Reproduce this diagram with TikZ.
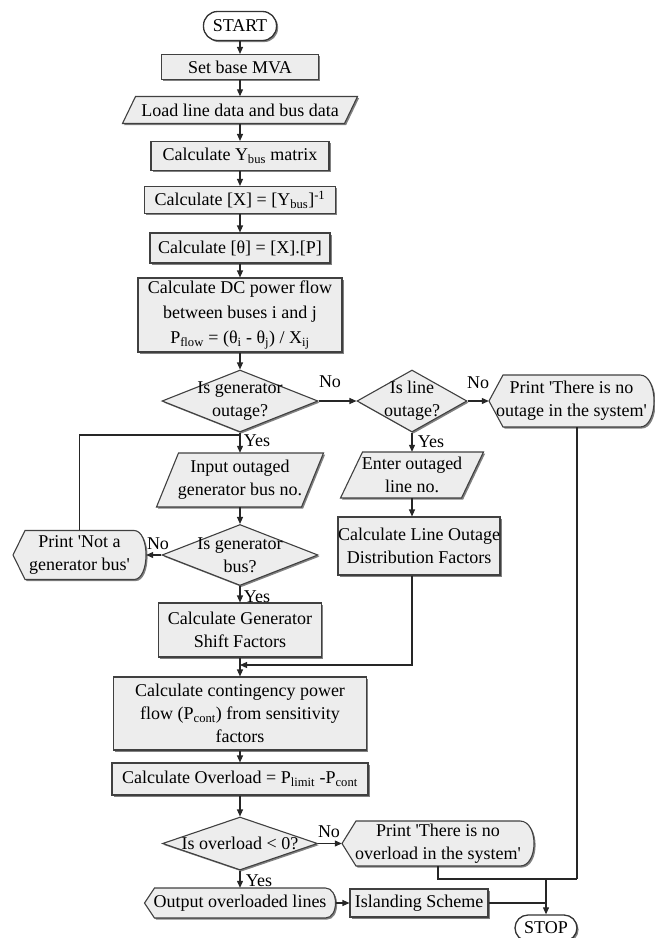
\documentclass[tikz,border=0pt]{standalone}
\usepackage{fontspec}
\setmainfont{Liberation Serif}
\usetikzlibrary{arrows.meta,shadows,calc,shapes.geometric}

% Parallelogram (input/output) outline: centre x, centre y, width, height, skew
\newcommand\ioshape[5]{%
  \path[boxfill] ({#1-#3/2},{#2+#4/2}) -- ({#1+#3/2-#5},{#2+#4/2})
    -- ({#1+#3/2},{#2-#4/2}) -- ({#1-#3/2+#5},{#2-#4/2}) -- cycle;}
% Display outline (pointed left side, rounded right side): centre x, centre y, width, height, depth
\newcommand\dispshape[5]{%
  \path[boxfill] ({#1-#3/2},#2) -- ({#1-#3/2+#5},{#2-#4/2})
    -- ({#1+#3/2-#5},{#2-#4/2})
    .. controls ({#1+#3/2+#5/3},{#2-#4/2}) and ({#1+#3/2+#5/3},{#2+#4/2}) .. ({#1+#3/2-#5},{#2+#4/2})
    -- ({#1-#3/2+#5},{#2+#4/2}) -- cycle;}

\begin{document}
\begin{tikzpicture}[x=1pt,y=-1pt,
  font=\fontsize{18}{23}\selectfont,
  every node/.style={align=center,inner sep=0pt},
  flowline/.style={draw=black!85,line width=1.1pt},
  arrowline/.style={flowline,-{Triangle[length=7pt,width=6pt]}},
  shade/.style={drop shadow={shadow xshift=1.6pt,shadow yshift=-1.6pt,fill=black!55,opacity=0.9}},
  boxfill/.style={draw=black!75,line width=1.1pt,fill=gray!14,shade},
  procbox/.style={boxfill,rectangle},
  termbox/.style={rectangle,draw=black!80,line width=1.3pt,fill=white,shade},
  decision/.style={boxfill,diamond},
  plain/.style={rectangle,draw=none},
  lbl/.style={inner sep=0pt}]

\useasboundingbox (0,0) rectangle (654,938);

% main column
\node[termbox,rounded corners=14pt,minimum width=73pt,minimum height=29pt] (start) at (240,26) {START};
\node[procbox,minimum width=157pt,minimum height=25pt] (base) at (240,67) {Set base MVA};
\ioshape{240}{110}{235}{27}{13}
\node[plain,minimum width=235pt,minimum height=27pt] (load) at (240,110) {Load line data and bus data};
\node[procbox,minimum width=178pt,minimum height=29pt] (ybus) at (240,156) {Calculate Y\textsubscript{bus} matrix};
\node[procbox,minimum width=191pt,minimum height=27pt] (xinv) at (240,200) {Calculate [X] = [Y\textsubscript{bus}]\textsuperscript{-1}};
\node[procbox,minimum width=180pt,minimum height=30pt] (theta) at (240,248) {Calculate [θ] = [X].[P]};
\node[procbox,minimum width=204pt,minimum height=74pt] (dc) at (240,315)
  {Calculate DC power flow\\[2pt]between buses i and j\\[2pt]P\textsubscript{flow} = (θ\textsubscript{i} - θ\textsubscript{j}) / X\textsubscript{ij}};

% outage decisions
\node[decision,minimum width=156pt,minimum height=62pt] (d1) at (240,401) {};
\node[lbl] (d1t) at (240,401) {Is generator\\outage?};
\node[decision,minimum width=110pt,minimum height=62pt] (d2) at (412,401) {};
\node[lbl] (d2t) at (412,401) {Is line\\outage?};
\dispshape{571.5}{401}{165}{52}{14}
\node[plain,minimum width=165pt,minimum height=52pt] (po) at (571.5,401) {Print \textquotesingle There is no\\outage in the system\textquotesingle};

% generator branch
\ioshape{240}{480}{167}{54}{22}
\node[plain,minimum width=167pt,minimum height=54pt] (inp) at (240,480) {Input outaged\\generator bus no.};
\node[decision,minimum width=156pt,minimum height=61pt] (d3) at (240,555) {};
\node[lbl] (d3t) at (240,555) {Is generator\\bus?};
\dispshape{79.5}{555}{133}{49}{12}
\node[plain,minimum width=133pt,minimum height=49pt] (pn) at (79.5,555) {Print \textquotesingle Not a\\generator bus\textquotesingle};
\node[procbox,minimum width=163pt,minimum height=54pt] (gsf) at (240,630) {Calculate Generator\\Shift Factors};

% line branch
\ioshape{412}{475}{143}{46}{22}
\node[plain,minimum width=143pt,minimum height=46pt] (enl) at (412,475) {Enter outaged\\line no.};
\node[procbox,minimum width=162pt,minimum height=58pt] (lodf) at (419,546) {Calculate Line Outage\\Distribution Factors};

% contingency analysis
\node[procbox,minimum width=253pt,minimum height=73pt] (cont) at (240,713.5)
  {Calculate contingency power\\flow (P\textsubscript{cont}) from sensitivity\\factors};
\node[procbox,minimum width=256pt,minimum height=32pt] (ovl) at (240,779) {Calculate Overload = P\textsubscript{limit} -P\textsubscript{cont}};
\node[decision,minimum width=155pt,minimum height=53pt] (d4) at (240,843.5) {};
\node[lbl] (d4t) at (240,843.5) {Is overload < 0?};
\dispshape{438}{843.5}{192}{45}{14}
\node[plain,minimum width=192pt,minimum height=45pt] (pov) at (438,843.5) {Print \textquotesingle There is no\\overload in the system\textquotesingle};
\dispshape{240}{903}{191}{30}{10}
\node[plain,minimum width=191pt,minimum height=30pt] (out) at (240,903) {Output overloaded lines};
\node[procbox,minimum width=138pt,minimum height=28pt] (isl) at (419,903) {Islanding Scheme};
\node[termbox,rounded corners=13pt,minimum width=62pt,minimum height=26pt] (stop) at (546,928) {STOP};

% junction points
\coordinate (jn) at (240,435);
\coordinate (mj) at (240,665);
\coordinate (rj) at (577,879);
\coordinate (sj) at (546,879);

% connectors
\draw[arrowline] (start.south) -- (base.north);
\draw[arrowline] (base.south) -- (load.north);
\draw[arrowline] (load.south) -- (ybus.north);
\draw[arrowline] (ybus.south) -- (xinv.north);
\draw[arrowline] (xinv.south) -- (theta.north);
\draw[arrowline] (theta.south) -- (dc.north);
\draw[arrowline] (dc.south) -- (d1.north);
\draw[arrowline] (d1.east) -- (d2.west);
\draw[arrowline] (d2.east) -- (po.west);
\draw[arrowline] (d1.south) -- (inp.north);
\draw[arrowline] (d2.south) -- (enl.north);
\draw[arrowline] (enl.south) -- (enl.south |- lodf.north);
\draw[arrowline] (inp.south) -- (d3.north);
\draw[arrowline] (d3.west) -- (pn.east);
\draw[flowline] (pn.north) |- (jn);
\draw[arrowline] (d3.south) -- (gsf.north);
\draw[arrowline] (gsf.south) -- (cont.north);
\draw[arrowline] (d2.south |- lodf.south) |- (mj);
\draw[arrowline] (cont.south) -- (ovl.north);
\draw[arrowline] (ovl.south) -- (d4.north);
\draw[arrowline] (d4.east) -- (pov.west);
\draw[arrowline] (d4.south) -- (out.north);
\draw[arrowline] (out.east) -- (isl.west);
\draw[flowline] (po.south -| rj) -- (rj);
\draw[flowline] (pov.south) |- (rj);
\draw[flowline] (isl.east) -- (stop.north |- isl.east);
\draw[arrowline] (sj) -- (stop.north);

% branch labels
\node[lbl] (n1) at (330,382) {No};
\node[lbl] (n2) at (478,383) {No};
\node[lbl] (n3) at (158,544) {No};
\node[lbl] (n4) at (329,832) {No};
\node[lbl] (y1) at (257,441) {Yes};
\node[lbl] (y2) at (431,442) {Yes};
\node[lbl] (y3) at (257,597) {Yes};
\node[lbl] (y4) at (259,881) {Yes};
\end{tikzpicture}
\end{document}
